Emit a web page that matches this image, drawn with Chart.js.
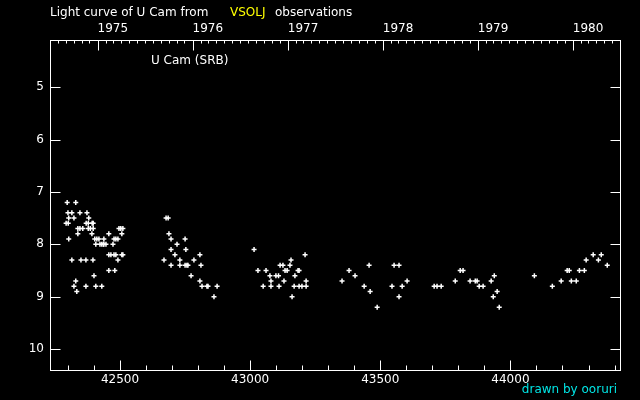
<!DOCTYPE html>
<html>
<head>
<meta charset="utf-8">
<script src="https://cdn.jsdelivr.net/npm/chart.js@4.4.1/dist/chart.umd.min.js"></script>
<style>
  html, body { margin: 0; padding: 0; background: #000; }
</style>
</head>
<body>
<canvas id="lightCurve" width="640" height="400"></canvas>
<script>
// JD - 2400000 and visual magnitude of U Cam
const obsJD = [
  42293, 42297, 42300, 42301, 42303, 42303, 42315, 42315, 42323, 42323,
  42330, 42330, 42334, 42338, 42338, 42346, 42346, 42350, 42357, 42369,
  42369, 42370, 42373, 42378, 42378, 42380, 42386, 42392, 42393, 42396,
  42397, 42397, 42400, 42403, 42407, 42407, 42411, 42419, 42423, 42430,
  42430, 42436, 42438, 42438, 42446, 42457, 42457, 42457, 42465, 42473,
  42477, 42477, 42480, 42484, 42484, 42492, 42492, 42496, 42503, 42507,
  42507, 42511, 42511,
  42669, 42677, 42685, 42688, 42696, 42696, 42696, 42711, 42719, 42730,
  42730, 42750, 42750, 42753, 42757, 42761, 42773, 42784, 42807, 42807,
  42811, 42815, 42834, 42838, 42861, 42873,
  43015, 43030, 43050, 43061, 43076, 43080, 43080, 43099, 43109, 43111,
  43115, 43126, 43130, 43134, 43142, 43153, 43157, 43161, 43169, 43172,
  43184, 43188, 43188, 43199, 43211, 43215, 43215,
  43353, 43380, 43403, 43438, 43457, 43461, 43488, 43545, 43553, 43572,
  43572, 43584, 43603,
  43707, 43718, 43734, 43788, 43807, 43818, 43845, 43865, 43872, 43880,
  43895, 43926, 43934, 43938, 43949, 43957,
  44092, 44161, 44195, 44218, 44226, 44234, 44253, 44265, 44284, 44291,
  44318, 44338, 44349, 44372
];
const obsMag = [
  7.6, 7.2, 7.4, 7.6, 7.5, 7.9, 7.4, 8.3, 7.5, 8.8,
  7.2, 8.7, 8.9, 7.7, 7.8, 7.4, 7.7, 8.3, 7.7, 8.3,
  8.8, 7.6, 7.4, 7.6, 7.7, 7.5, 7.7, 7.8, 7.6, 8.3,
  7.6, 7.7, 8.6, 7.9, 8.0, 8.8, 7.9, 7.9, 8.0, 8.0,
  8.8, 8.0, 7.9, 8.0, 8.0, 7.8, 8.2, 8.5, 8.2, 8.0,
  7.9, 8.2, 8.5, 7.9, 8.2, 7.9, 8.3, 7.7, 7.7, 7.8,
  8.2, 7.7, 8.2,
  8.3, 7.5, 7.5, 7.8, 7.9, 8.1, 8.4, 8.2, 8.0, 8.3,
  8.4, 7.9, 8.4, 8.1, 8.4, 8.4, 8.6, 8.3, 8.2, 8.7,
  8.4, 8.8, 8.8, 8.8, 9.0, 8.8,
  8.1, 8.5, 8.8, 8.5, 8.6, 8.7, 8.8, 8.6, 8.6, 8.8,
  8.4, 8.4, 8.7, 8.5, 8.5, 8.4, 8.3, 9.0, 8.8, 8.6,
  8.5, 8.5, 8.8, 8.8, 8.2, 8.7, 8.8,
  8.7, 8.5, 8.6, 8.8, 8.4, 8.9, 9.2, 8.8, 8.4, 8.4,
  9.0, 8.8, 8.7,
  8.8, 8.8, 8.8, 8.7, 8.5, 8.5, 8.7, 8.7, 8.7, 8.8,
  8.8, 8.7, 9.0, 8.6, 8.9, 9.2,
  8.6, 8.8, 8.7, 8.5, 8.5, 8.7, 8.7, 8.5, 8.5, 8.3,
  8.2, 8.3, 8.2, 8.4
];

const jdTicks = [42500, 43000, 43500, 44000];
const magTicks = [5, 6, 7, 8, 9, 10];
const yearLabels = ['1975', '1976', '1977', '1978', '1979', '1980'];

const JD_MIN = 42231, JD_MAX = 44421;
const MAG_MIN = 4.1, MAG_MAX = 10.4;
const FONT = '"DejaVu Sans", sans-serif';

// JD-2400000 at 0h UT of a calendar date
function dateToJD(y, m, d) {
    return Date.UTC(y, m, d) / 86400000 + 40587.5;
}
const yearJD = yearLabels.map(y => dateToJD(+y, 0, 1));

const framePlugin = {
    id: 'frame',
    beforeDraw(chart) {
        const c = chart.ctx;
        c.save();
        c.fillStyle = '#000';
        c.fillRect(0, 0, chart.width, chart.height);
        c.restore();
    },
    afterDraw(chart) {
        const c = chart.ctx;
        const a = chart.chartArea;
        const xs = chart.scales.x, ys = chart.scales.y;
        const L = Math.round(a.left) + 0.5, R = Math.round(a.right) + 0.5;
        const T = Math.round(a.top) + 0.5, B = Math.round(a.bottom) + 0.5;
        c.save();
        c.strokeStyle = '#fff';
        c.lineWidth = 1;
        c.strokeRect(L, T, R - L, B - T);

        c.beginPath();
        // magnitude ticks, both sides
        magTicks.forEach(m => {
            const y = Math.round(ys.getPixelForValue(m)) + 0.5;
            c.moveTo(L, y); c.lineTo(L + 10, y);
            c.moveTo(R, y); c.lineTo(R - 10, y);
        });
        // JD ticks along the bottom
        for (let v = 42300; v <= JD_MAX; v += 100) {
            const x = Math.round(xs.getPixelForValue(v)) + 0.5;
            const len = v % 500 === 0 ? 10 : 5;
            c.moveTo(x, B); c.lineTo(x, B - len);
        }
        // months and years along the top
        for (let y = 1974; y <= 1980; y++) {
            for (let m = 0; m < 12; m++) {
                const jd = dateToJD(y, m, 1);
                if (jd <= JD_MIN || jd >= JD_MAX) continue;
                const x = Math.round(xs.getPixelForValue(jd)) + 0.5;
                c.moveTo(x, T); c.lineTo(x, T + (m === 0 ? 10 : 3));
            }
        }
        c.stroke();

        c.font = '12px ' + FONT;
        c.textBaseline = 'middle';
        c.textAlign = 'left';
        c.fillStyle = '#fff';
        c.fillText('Light curve of U Cam from', 50, 13);
        c.fillStyle = '#ffff00';
        c.fillText('VSOLJ', 230, 13);
        c.fillStyle = '#fff';
        c.fillText('observations', 275, 13);
        c.fillText('U Cam (SRB)', 151, 61);
        c.textAlign = 'right';
        c.fillStyle = '#00e5e5';
        c.fillText('drawn by ooruri', 617, 390);
        c.restore();
    }
};

new Chart(document.getElementById('lightCurve'), {
    type: 'scatter',
    data: {
        datasets: [{
            data: obsJD.map((jd, i) => ({ x: jd, y: obsMag[i] })),
            pointStyle: 'cross',
            pointRadius: 2.5,
            borderWidth: 1.5,
            borderColor: '#fff',
            backgroundColor: '#fff'
        }]
    },
    options: {
        responsive: false,
        animation: false,
        layout: { padding: { left: 0, right: 20, top: 0, bottom: 0 } },
        plugins: { legend: { display: false }, tooltip: { enabled: false } },
        scales: {
            x: {
                type: 'linear', position: 'bottom', min: JD_MIN, max: JD_MAX,
                afterBuildTicks: s => { s.ticks = jdTicks.map(v => ({ value: v })); },
                afterFit: s => { s.height = 30; },
                grid: { display: false, drawTicks: false },
                border: { display: false },
                ticks: {
                    color: '#fff', font: { family: FONT, size: 12 }, padding: 3,
                    maxRotation: 0, autoSkip: false, callback: v => String(v)
                }
            },
            x2: {
                type: 'linear', position: 'top', min: JD_MIN, max: JD_MAX,
                afterBuildTicks: s => { s.ticks = yearJD.map(v => ({ value: v })); },
                afterFit: s => { s.height = 40; },
                grid: { display: false, drawTicks: false },
                border: { display: false },
                ticks: {
                    color: '#fff', font: { family: FONT, size: 12 }, padding: 4, align: 'start',
                    maxRotation: 0, autoSkip: false, callback: (v, i) => yearLabels[i]
                }
            },
            y: {
                type: 'linear', reverse: true, min: MAG_MIN, max: MAG_MAX,
                afterBuildTicks: s => { s.ticks = magTicks.map(v => ({ value: v })); },
                afterFit: s => { s.width = 50; },
                grid: { display: false, drawTicks: false },
                border: { display: false },
                ticks: { color: '#fff', font: { family: FONT, size: 12 }, padding: 6 }
            }
        }
    },
    plugins: [framePlugin]
});
</script>
</body>
</html>
